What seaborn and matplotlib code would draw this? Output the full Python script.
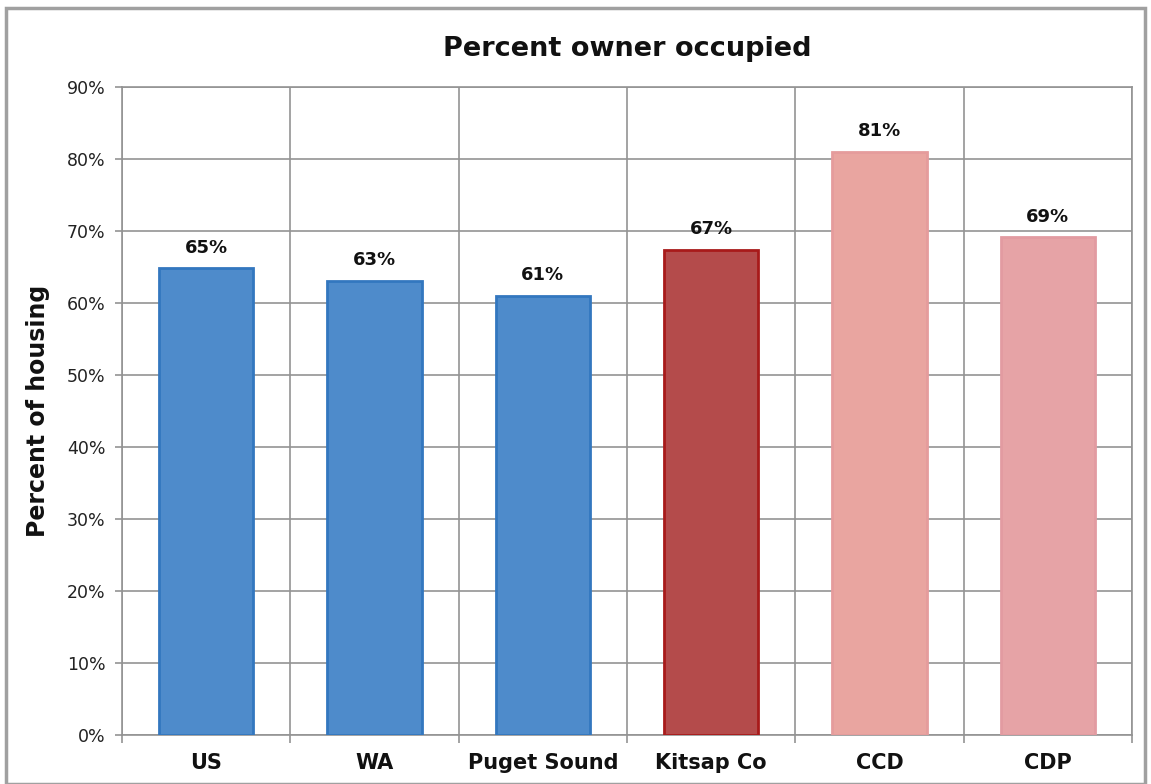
import matplotlib
matplotlib.use("Agg")
import matplotlib.pyplot as plt
import matplotlib.patches as mpatches
from matplotlib.ticker import FixedLocator, PercentFormatter
import seaborn as sns
import pandas as pd

# Share of housing units that are owner occupied
areas = ["US", "WA", "Puget Sound", "Kitsap Co", "CCD", "CDP"]
owner_pct = [64.8, 63.1, 61.0, 67.4, 81.0, 69.1]
y_ticks = [0, 10, 20, 30, 40, 50, 60, 70, 80, 90]

fill_colors = ["#4e8bcb", "#4e8bcb", "#4e8bcb", "#b44b4b", "#e9a5a0", "#e6a3a6"]
edge_colors = ["#3377bf", "#3377bf", "#3377bf", "#a81a1a", "#e59c9c", "#e29ba1"]

sns.set_theme(style="white")
plt.rcParams["font.family"] = ["DejaVu Sans"]

df = pd.DataFrame({"area": areas, "pct": owner_pct})

fig = plt.figure(figsize=(11.51, 7.84), dpi=100)
ax = fig.add_axes([0.106, 0.0625, 0.8775, 0.8265])

sns.barplot(data=df, x="area", y="pct", hue="area", order=areas,
            palette=dict(zip(areas, fill_colors)), saturation=1, width=0.56,
            legend=False, ax=ax, zorder=3)

for bar, ec in zip(ax.patches, edge_colors):
    bar.set_edgecolor(ec)
    bar.set_linewidth(2.0)

# Value labels above each bar
for i, v in enumerate(owner_pct):
    ax.text(i, v + 1.6, f"{v:.0f}%", ha="center", va="bottom",
            fontsize=13, fontweight="bold", color="#111111", zorder=4)

ax.set_xlim(-0.5, len(areas) - 0.5)
ax.set_ylim(0, 90)
ax.yaxis.set_major_locator(FixedLocator(y_ticks))
ax.yaxis.set_major_formatter(PercentFormatter(decimals=0))

# Vertical grid lines sit between the categories
grid_color = "#939393"
ax.xaxis.set_minor_locator(FixedLocator([i - 0.5 for i in range(len(areas) + 1)]))
ax.grid(True, axis="y", which="major", color=grid_color, linewidth=1.2, zorder=0)
ax.grid(True, axis="x", which="minor", color=grid_color, linewidth=1.2, zorder=0)
ax.grid(False, axis="x", which="major")

ax.tick_params(axis="x", which="major", length=0, pad=13, labelsize=15, labelcolor="#111111")
ax.tick_params(axis="x", which="minor", length=6, width=1.2, color=grid_color, bottom=True)
ax.tick_params(axis="y", which="major", length=5, width=1.2, color=grid_color, left=True,
               labelsize=12.5, labelcolor="#222222", pad=7)
for lbl in ax.get_xticklabels():
    lbl.set_fontweight("bold")

ax.set_xlabel("")
ax.set_ylabel("Percent of housing", fontsize=17, fontweight="bold", color="#111111", labelpad=12)
ax.set_title("Percent owner occupied", fontsize=19.5, fontweight="bold", color="#111111", pad=22)

for side, sp in ax.spines.items():
    sp.set_visible(True)
    sp.set_color(grid_color)
    sp.set_linewidth(1.2)

# Outer chart frame
fig.patches.append(mpatches.Rectangle((0.005, 0.0), 0.99, 0.99, transform=fig.transFigure,
                                      fill=False, edgecolor="#a0a0a0", linewidth=2.5))

fig.savefig("out.png", dpi=100)
